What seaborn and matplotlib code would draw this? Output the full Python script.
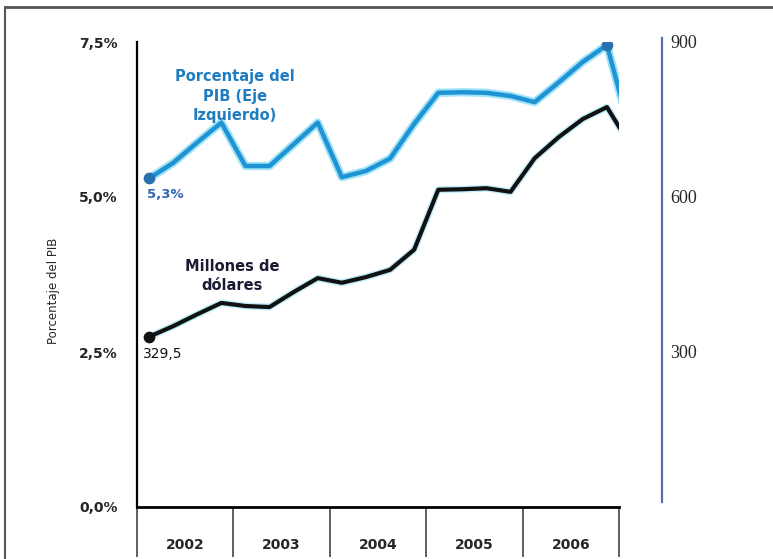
import numpy as np
import pandas as pd
import matplotlib.pyplot as plt
import seaborn as sns
import matplotlib.patheffects as pe
from matplotlib.lines import Line2D

# datos trimestrales 2002-2006 (el ultimo punto queda recortado por el eje)
years = ['2002', '2003', '2004', '2005', '2006']
trimestre = list(range(21))
pct_pib = [5.3, 5.55, 5.88, 6.2, 5.5, 5.5, 5.85, 6.2, 5.32, 5.42, 5.62, 6.18,
           6.68, 6.69, 6.68, 6.63, 6.53, 6.85, 7.18, 7.45, 6.0]
millones = [329.5, 350, 373, 395, 389, 387, 416, 443, 434, 445, 459, 498,
            614, 615, 617, 610, 675, 716, 751, 774, 698]
pct_ticks = [0, 2.5, 5.0, 7.5]
pct_labels = ['0,0%', '2,5%', '5,0%', '7,5%']
usd_ticks = [300, 600, 900]

df = pd.DataFrame({'t': trimestre, 'pct': pct_pib, 'usd': millones})

sns.set_style('white')
plt.rcParams['font.family'] = ['DejaVu Sans']

W, H = 773, 559
fig = plt.figure(figsize=(W / 100, H / 100), dpi=100)
ax = fig.add_axes([137 / W, 1 - 507 / H, (619 - 137) / W, 465 / H])

blue = '#1f93d3'
glow = [pe.Stroke(linewidth=6, foreground='#9fe3f7'), pe.Normal()]

# linea del % del PIB (eje izquierdo)
sns.lineplot(data=df, x='t', y='pct', ax=ax, color=blue, linewidth=3.2,
             path_effects=glow)
ax.scatter([df.t[0], df.t[19]], [df.pct[0], df.pct[19]], s=55,
           color='#2a6fae', zorder=5)

ax.set_xlim(-0.5, 19.5)
ax.set_ylim(0, 7.5)
ax.set_yticks(pct_ticks)
ax.set_yticklabels(pct_labels, fontsize=10, fontweight='bold')
ax.tick_params(axis='y', length=0, pad=14)
ax.set_ylabel('Porcentaje del PIB', fontsize=8.5)
ax.yaxis.set_label_coords(-0.16, 0.465)

# años y separadores
ax.set_xticks([4 * i + 1.5 for i in range(len(years))])
ax.set_xticklabels(years, fontsize=10, fontweight='bold')
ax.set_xticks([4 * i - 0.5 for i in range(len(years) + 1)], minor=True)
ax.tick_params(axis='x', which='major', bottom=True, length=0, pad=22)
ax.tick_params(axis='x', which='minor', bottom=True, length=36, width=1.2,
               color='#444444', direction='out')
ax.set_xlabel('')

for s in ['top', 'right']:
    ax.spines[s].set_visible(False)
ax.spines['left'].set_color('black')
ax.spines['left'].set_linewidth(1.6)
ax.spines['bottom'].set_color('black')
ax.spines['bottom'].set_linewidth(2)

# millones de dolares (eje derecho)
ax2 = ax.twinx()
sns.lineplot(data=df, x='t', y='usd', ax=ax2, color='#111111', linewidth=3,
             path_effects=[pe.Stroke(linewidth=5, foreground='#bfeefa'), pe.Normal()])
ax2.scatter([df.t[0]], [df.usd[0]], s=55, color='#111111', zorder=5)
ax2.set_ylim(0, 900)
ax2.set_xlim(-0.5, 19.5)
ax2.set_yticks(usd_ticks)
ax2.set_yticklabels([str(v) for v in usd_ticks])
ax2.tick_params(axis='y', length=0, pad=6, labelsize=13,
                labelfontfamily='Liberation Serif')
ax2.set_ylabel('')
for s in ['top', 'left', 'bottom']:
    ax2.spines[s].set_visible(False)
ax2.spines['right'].set_position(('axes', (662 - 137) / (619 - 137)))
ax2.spines['right'].set_color('#4f74a6')
ax2.spines['right'].set_linewidth(1.6)
ax2.spines['right'].set_bounds(10, 908)

# anotaciones
fig.text(235 / W, 1 - 96 / H, 'Porcentaje del\nPIB (Eje\nIzquierdo)',
         ha='center', va='center', fontsize=10.5, fontweight='bold',
         color='#1f7cc0', linespacing=1.35)
fig.text(147 / W, 1 - 195 / H, '5,3%', ha='left', va='center', fontsize=9.5,
         fontweight='bold', color='#2f64b0')
fig.text(232 / W, 1 - 276 / H, 'Millones de\ndólares', ha='center', va='center',
         fontsize=10.5, fontweight='bold', color='#1a1a33', linespacing=1.3)
fig.text(143 / W, 1 - 354 / H, '329,5', ha='left', va='center', fontsize=10,
         color='#111111')

# marco de la imagen
fig.add_artist(Line2D([5 / W, 1], [1 - 7 / H, 1 - 7 / H], color='#555555', lw=2))
fig.add_artist(Line2D([5 / W, 5 / W], [0, 1 - 7 / H], color='#555555', lw=1.5))

fig.savefig('out.png', dpi=100)
